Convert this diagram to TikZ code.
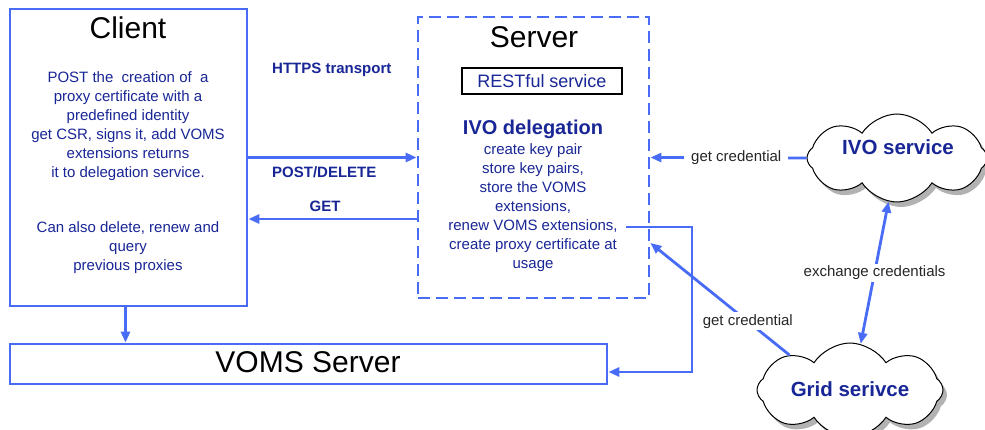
\documentclass[tikz,border=0pt]{standalone}
\usepackage{fontspec}
\setmainfont{Liberation Sans}
\usetikzlibrary{arrows.meta,shapes.symbols,shadows}
\definecolor{linkblue}{RGB}{72,108,245}
\definecolor{inkblue}{RGB}{25,38,150}

\begin{document}
\begin{tikzpicture}[x=1pt,y=-1pt,
  wire/.style={draw=linkblue, line width=2.8pt},
  arr/.style={wire, -{Triangle[length=11pt,width=9pt]}},
  dblarr/.style={wire, {Triangle[length=11pt,width=9pt]}-{Triangle[length=11pt,width=9pt]}},
  panel/.style={draw=linkblue, line width=2.8pt, rectangle, inner sep=0pt},
  title/.style={font=\fontsize{30}{32}\selectfont, text=black},
  body/.style={font=\fontsize{15}{19}\selectfont, text=inkblue, align=center, inner sep=0pt},
  tag/.style={font=\bfseries\fontsize{15}{18}\selectfont, text=inkblue, inner sep=0pt},
  note/.style={font=\fontsize{15}{18}\selectfont, text=black!85, fill=white, inner xsep=7pt, inner ysep=2pt},
  puff/.style={cloud, cloud puffs=8, cloud puff arc=115, cloud ignores aspect, draw=black, line width=1pt, fill=white,
    drop shadow={shadow xshift=4pt, shadow yshift=-5pt, opacity=0.6, fill=black!50},
    inner sep=0pt},
  puffText/.style={font=\bfseries\fontsize{20.5}{24}\selectfont, text=inkblue}
]
% canvas
\useasboundingbox[fill=white] (0,0) rectangle (985,430);

% client side
\node[panel, minimum width=237pt, minimum height=297pt] (client) at (128.5,157.5) {};
\node[title] (clientTitle) at (128,28) {Client};
\node[body] (clientText) at (128,126) {POST the\ \ creation of\ \ a\\ proxy certificate with a\\ predefined identity\\ get CSR, signs it, add VOMS\\ extensions returns\\ it to delegation service.};
\node[body] (clientMore) at (128,248) {Can also delete, renew and\\ query\\ previous proxies};

% server side
\node[panel, dash pattern=on 12pt off 6pt, minimum width=231pt, minimum height=281pt] (server) at (533.5,157.5) {};
\node[title] (serverTitle) at (534,37) {Server};
\node[draw=black, line width=2pt, minimum width=160pt, minimum height=26pt, inner sep=0pt,
      font=\fontsize{18}{20}\selectfont, text=inkblue] (rest) at (542,81) {RESTful service};
\node[font=\bfseries\fontsize{20}{24}\selectfont, text=inkblue, inner sep=0pt] (ivoDel) at (533,129) {IVO delegation};
\node[body] (serverText) at (533,208) {create key pair\\ store key pairs,\\ store the VOMS\\ extensions,\\ renew VOMS extensions,\\ create proxy certificate at\\ usage};

% VOMS server
\node[panel, minimum width=597pt, minimum height=40pt] (voms) at (308.5,364) {};
\node[title] (vomsTitle) at (308,362) {VOMS Server};

% external services
\node[puff, minimum width=180pt, minimum height=88pt] (ivo) at (897,158) {};
\node[puffText] (ivoText) at (898,147) {IVO service};
\node[puff, minimum width=186pt, minimum height=94pt] (grid) at (850,390) {};
\node[puffText] (gridText) at (850,389) {Grid serivce};

% transport labels
\node[tag, anchor=west] (https) at (272,70) {HTTPS transport};
\node[tag, anchor=west] (postDel) at (272,172) {POST/DELETE};
\node[tag] (getTag) at (325,206) {GET};

% helper points
\coordinate (getLevel) at (0,219);
\coordinate (renewEnd) at (626,227);
\coordinate (gridIn) at (0,243);
\coordinate (downLink) at (125.5,0);

% connectors
\draw[arr] (client.east) -- (server.west);
\draw[arr] (server.west |- getLevel) -- (client.east |- getLevel);
\draw[arr] (client.south -| downLink) -- (voms.north -| downLink);
\draw[arr] (renewEnd) -- ++(66,0) |- ([yshift=-8pt]voms.east);
\draw[arr] (ivo.west) -- node[note, pos=0.45] {get credential} (server.east);
\draw[arr] (grid.150) -- node[note, pos=0.3] {get credential} (server.east |- gridIn);
\draw[dblarr] (ivo.259) -- node[note] {exchange credentials} (grid.77);
\end{tikzpicture}
\end{document}
